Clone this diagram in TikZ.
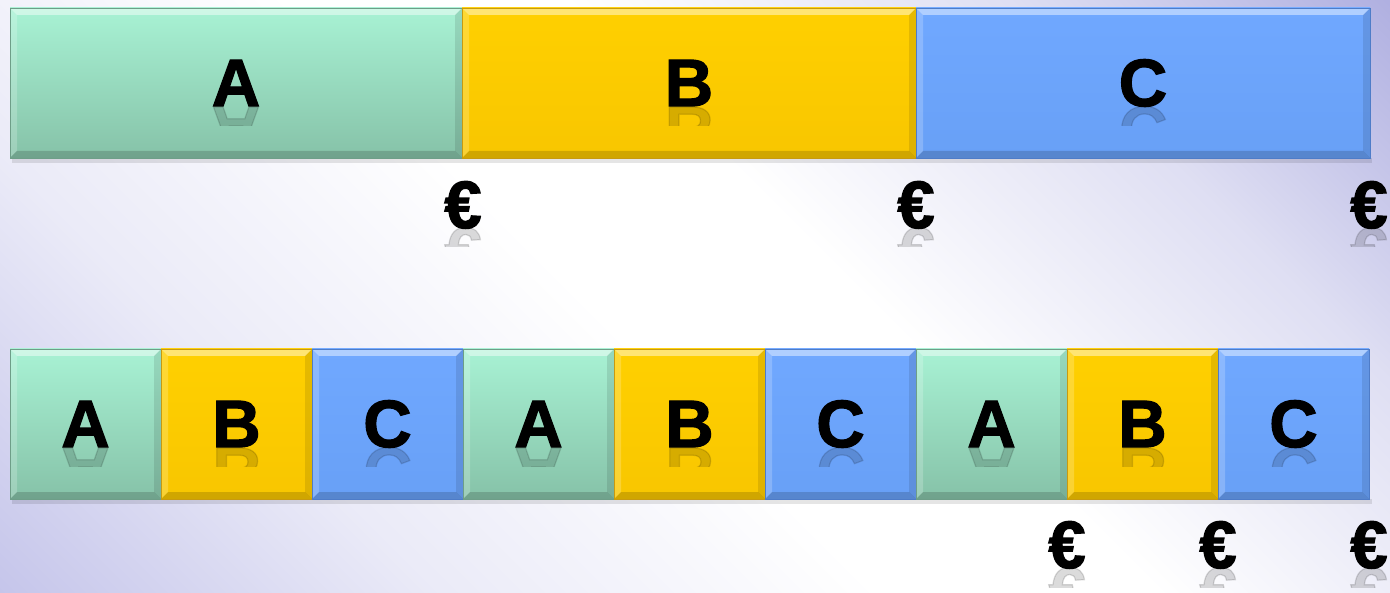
\documentclass[tikz,border=0pt]{standalone}
\usepackage{fontspec}
\newfontfamily\blk{Liberation Sans}[BoldFeatures={FakeBold=1.8}]
\usetikzlibrary{calc}
\definecolor{lavA}{HTML}{AEAEE0}
\definecolor{lavB}{HTML}{C4C4EA}
\definecolor{grT}{HTML}{A8F2D4}
\definecolor{grB}{HTML}{86C2A8}
\definecolor{grD}{HTML}{6E9E88}
\definecolor{yeT}{HTML}{FFD000}
\definecolor{yeB}{HTML}{F8C600}
\definecolor{yeD}{HTML}{C89A10}
\definecolor{blT}{HTML}{70A8FF}
\definecolor{blB}{HTML}{68A0F6}
\definecolor{blD}{HTML}{4E7CC8}
\pgfdeclarehorizontalshading{bgsh}{100bp}{color(0bp)=(lavB); color(14bp)=(lavB); color(30bp)=(lavB!35!white); color(46bp)=(white); color(56bp)=(white); color(72bp)=(lavA!40!white); color(86bp)=(lavA); color(100bp)=(lavA)}
\newcommand{\ppb}{path picture bounding box}
\tikzset{
  bigtxt/.style={font=\blk\bfseries\fontsize{67}{67}\selectfont, inner sep=0pt},
  cell/.style={rectangle, inner sep=0pt, minimum height=150pt, draw=#1D, line width=0.8pt,
    top color=#1T, bottom color=#1B, bigtxt,
    path picture={
      \fill[white,opacity=.45] (\ppb.north west) -- (\ppb.north east) -- ([shift={(-7pt,-7pt)}]\ppb.north east) -- ([shift={(7pt,-7pt)}]\ppb.north west) -- cycle;
      \fill[white,opacity=.2] (\ppb.north west) -- ([shift={(7pt,-7pt)}]\ppb.north west) -- ([shift={(7pt,7pt)}]\ppb.south west) -- (\ppb.south west) -- cycle;
      \fill[black,opacity=.1] (\ppb.north east) -- ([shift={(-7pt,-7pt)}]\ppb.north east) -- ([shift={(-7pt,7pt)}]\ppb.south east) -- (\ppb.south east) -- cycle;
      \fill[black,opacity=.16] (\ppb.south west) -- (\ppb.south east) -- ([shift={(-7pt,7pt)}]\ppb.south east) -- ([shift={(7pt,7pt)}]\ppb.south west) -- cycle;
    }},
  euro/.style={bigtxt, anchor=base}
}
\newcommand{\reflect}[3]{% position, text, vertical offset of baseline
    \begin{scope}
      \clip ($(#1)+(-40,#3)$) rectangle ($(#1)+(40,#3+19)$);
      \node[bigtxt, anchor=base, yscale=-1, text opacity=0.14] at ($(#1)+(0,#3)$) {#2};
    \end{scope}}
\begin{document}
\begin{tikzpicture}[x=1pt,y=-1pt]
  \useasboundingbox (0,0) rectangle (1390,593);
  \shade[shading=bgsh, shading angle=45] (0,0) rectangle (1390,593);
  % shadows
  \fill[black,opacity=.10] (12,158) rectangle (1372,163);
  \fill[black,opacity=.10] (12,499) rectangle (1372,504);
  % top row
  \node[cell=gr, minimum width=452pt] (tA) at (236,83) {A};
  \node[cell=ye, minimum width=454pt] (tB) at (689,83) {B};
  \node[cell=bl, minimum width=454pt] (tC) at (1143,83) {C};
  \reflect{tA.center}{A}{24}
  \reflect{tB.center}{B}{24}
  \reflect{tC.center}{C}{24}
  % bottom row
  \foreach \L/\c/\i in {A/gr/1,B/ye/2,C/bl/3,A/gr/4,B/ye/5,C/bl/6,A/gr/7,B/ye/8,C/bl/9}{
    \node[cell=\c, minimum width=151pt] (b\i) at ({10+151*(\i-0.5)},424) {\L};
    \reflect{b\i.center}{\L}{24}
  }
  % euros
  \node[euro] (e1) at (463,228) {€};
  \node[euro] (e2) at (916,228) {€};
  \node[euro] (e3) at (1369,228) {€};
  \node[euro] (e4) at (1067,568) {€};
  \node[euro] (e5) at (1218,568) {€};
  \node[euro] (e6) at (1369,568) {€};
  \foreach \e in {e1,e2,e3,e4,e5,e6}{\reflect{\e.base}{€}{0}}
\end{tikzpicture}
\end{document}
